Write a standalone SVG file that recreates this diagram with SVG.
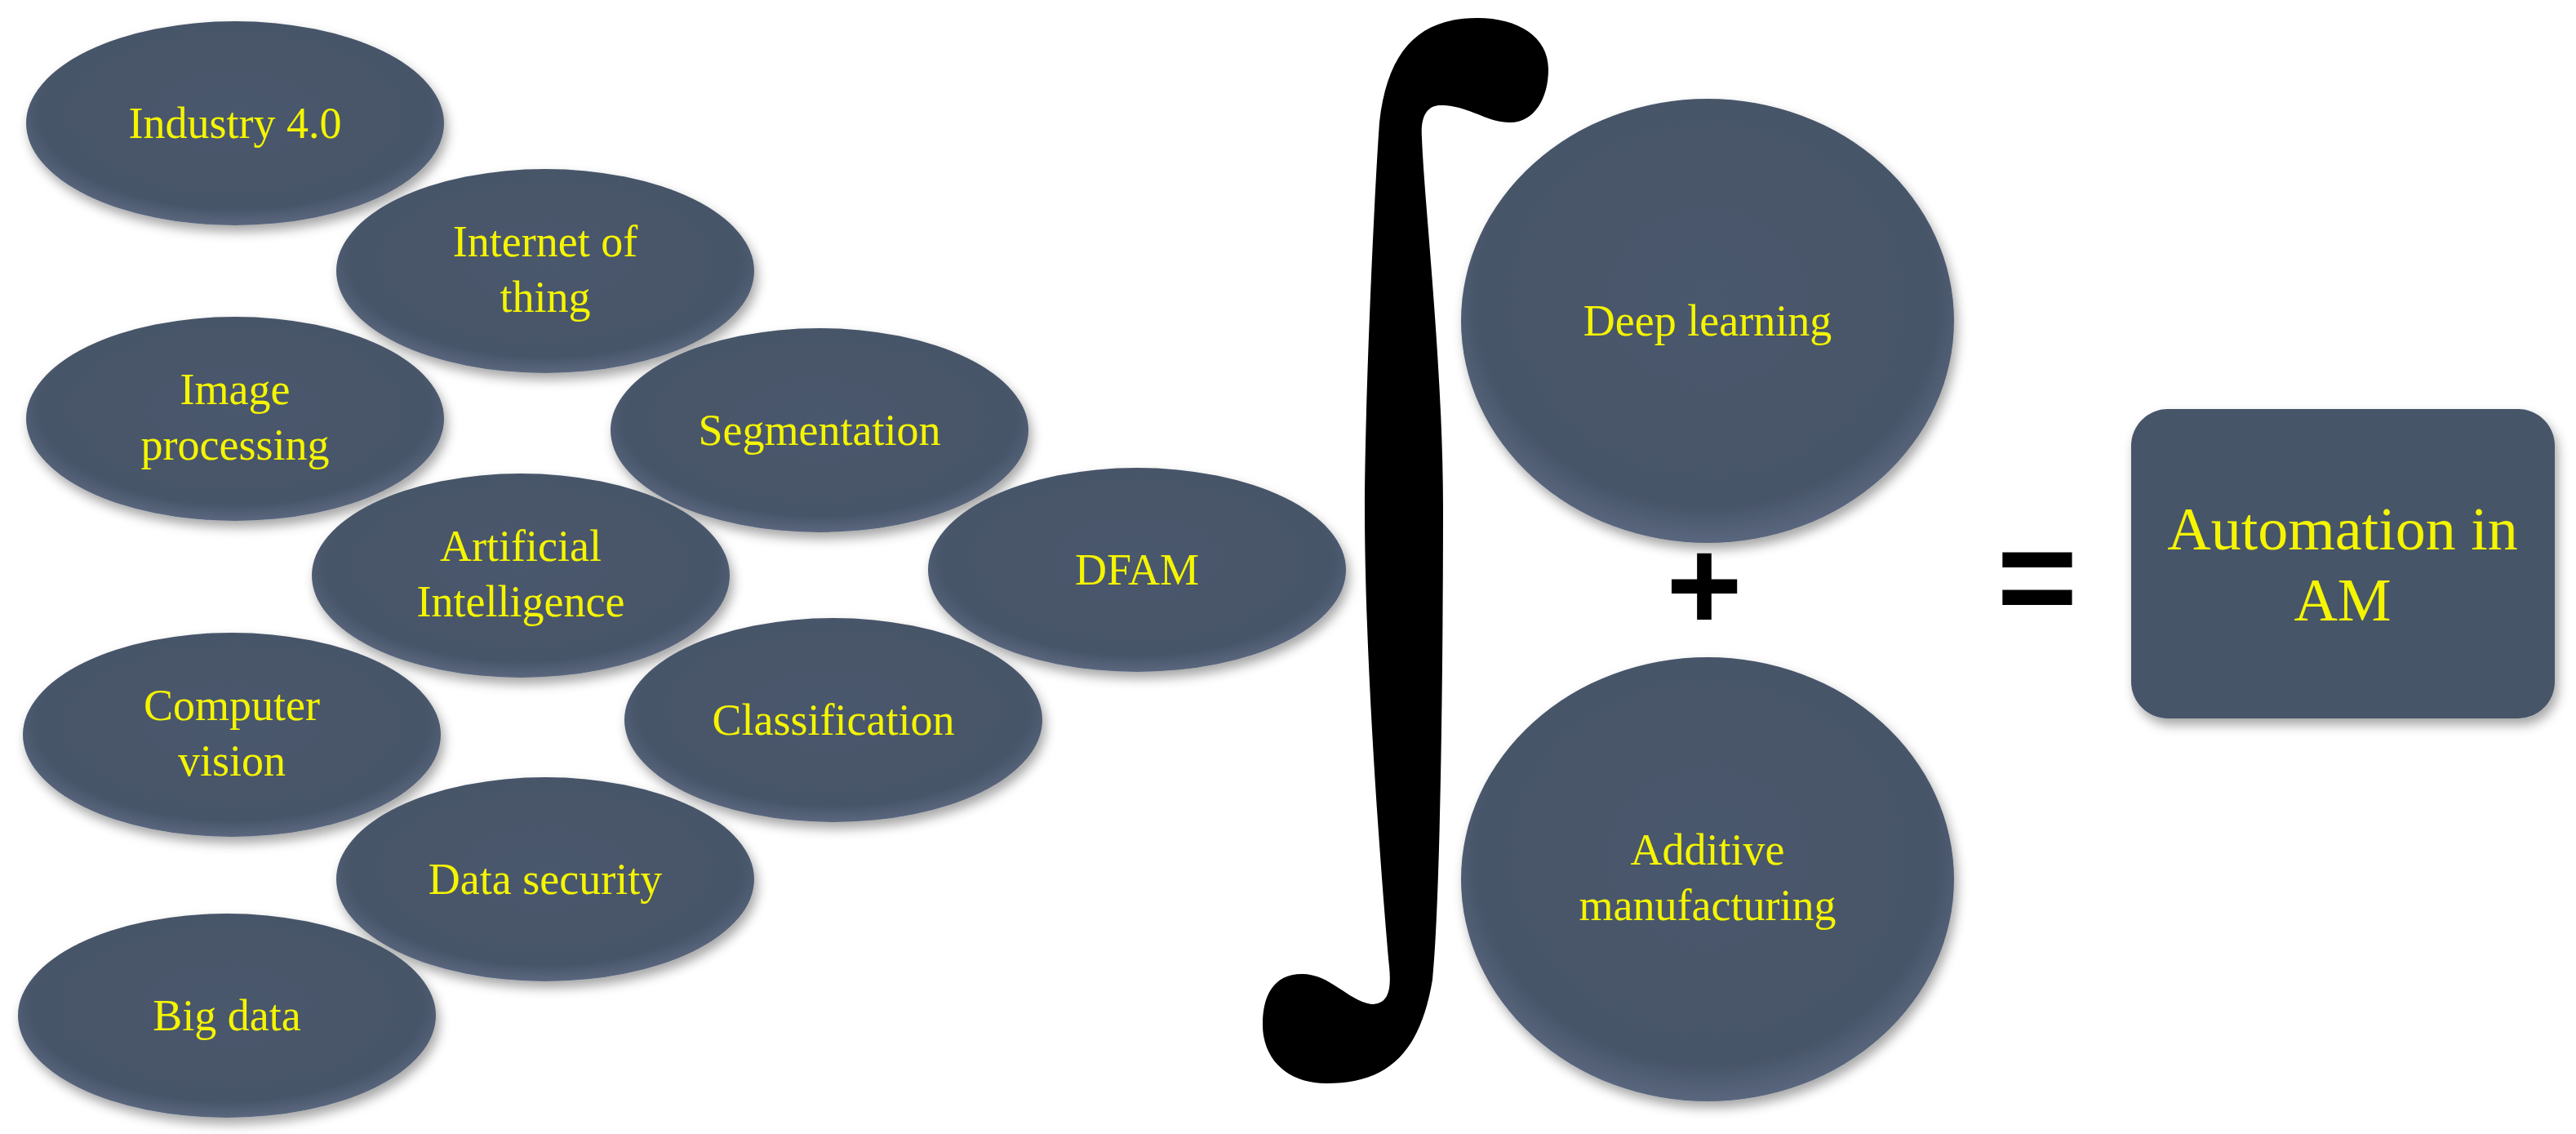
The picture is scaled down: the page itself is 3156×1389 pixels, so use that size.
<svg xmlns="http://www.w3.org/2000/svg" width="3156" height="1389" viewBox="0 0 3156 1389">
<defs>
<radialGradient id="g" cx="50%" cy="45%" r="55%">
<stop offset="0%" stop-color="#4a586d"/><stop offset="85%" stop-color="#475569"/><stop offset="100%" stop-color="#5a677e"/>
</radialGradient>
<filter id="sh" x="-10%" y="-10%" width="125%" height="130%">
<feDropShadow dx="4" dy="8" stdDeviation="7" flood-color="#000" flood-opacity="0.35"/>
</filter>
</defs>
<style>
.n{fill:url(#g);filter:url(#sh)}
.r{fill:#475569;filter:url(#sh)}
.t{font-family:"Liberation Serif",serif;font-size:54px;fill:#f5f500;text-anchor:middle}
.big{font-size:74px}
.b{font-family:"Liberation Sans",sans-serif;font-weight:bold;fill:#000;text-anchor:middle}
</style>
<rect width="3156" height="1389" fill="#fff"/>
<g id="industry"><ellipse class="n" cx="288" cy="151" rx="256" ry="125"/><text class="t" x="288" y="169">Industry 4.0</text></g>
<g id="iot"><ellipse class="n" cx="668" cy="332" rx="256" ry="125"/><text class="t" x="668" y="314">Internet of</text><text class="t" x="668" y="382">thing</text></g>
<g id="image"><ellipse class="n" cx="288" cy="513" rx="256" ry="125"/><text class="t" x="288" y="495">Image</text><text class="t" x="288" y="563">processing</text></g>
<g id="seg"><ellipse class="n" cx="1004" cy="527" rx="256" ry="125"/><text class="t" x="1004" y="545">Segmentation</text></g>
<g id="ai"><ellipse class="n" cx="638" cy="705" rx="256" ry="125"/><text class="t" x="638" y="687">Artificial</text><text class="t" x="638" y="755">Intelligence</text></g>
<g id="dfam"><ellipse class="n" cx="1393" cy="698" rx="256" ry="125"/><text class="t" x="1393" y="716">DFAM</text></g>
<g id="cv"><ellipse class="n" cx="284" cy="900" rx="256" ry="125"/><text class="t" x="284" y="882">Computer</text><text class="t" x="284" y="950">vision</text></g>
<g id="class"><ellipse class="n" cx="1021" cy="882" rx="256" ry="125"/><text class="t" x="1021" y="900">Classification</text></g>
<g id="datasec"><ellipse class="n" cx="668" cy="1077" rx="256" ry="125"/><text class="t" x="668" y="1095">Data security</text></g>
<g id="bigdata"><ellipse class="n" cx="278" cy="1244" rx="256" ry="125"/><text class="t" x="278" y="1262">Big data</text></g>
<g id="integral"><path fill="#000" d="M1897,85 C1897,45 1860,22 1810,22 C1740,22 1700,60 1690,150 C1683,250 1672,500 1672,623 C1672,800 1690,1050 1702,1184 C1705,1215 1700,1230 1680,1230 C1650,1225 1630,1193 1595,1193 C1560,1193 1547,1220 1547,1255 C1547,1300 1580,1327 1625,1327 C1700,1327 1740,1290 1755,1200 C1765,1100 1768,800 1768,623 C1768,450 1745,250 1742,169 C1740,140 1750,129 1765,129 C1800,129 1820,150 1850,150 C1880,150 1897,120 1897,85 Z"/></g>
<g id="deep"><ellipse class="n" cx="2092" cy="393" rx="302" ry="272"/><text class="t" x="2092" y="411">Deep learning</text></g>
<g id="additive"><ellipse class="n" cx="2092" cy="1077" rx="302" ry="272"/><text class="t" x="2092" y="1059">Additive</text><text class="t" x="2092" y="1127">manufacturing</text></g>
<g id="plus"><text class="b" x="2088" y="772" font-size="160">+</text></g>
<g id="equals"><text class="b" x="2496" y="765" font-size="170">=</text></g>
<g id="result"><rect class="r" x="2611" y="501" width="519" height="379" rx="45"/><text class="t big" x="2870" y="673">Automation in</text><text class="t big" x="2870" y="760">AM</text></g>
<g id="connectors"/>
</svg>
